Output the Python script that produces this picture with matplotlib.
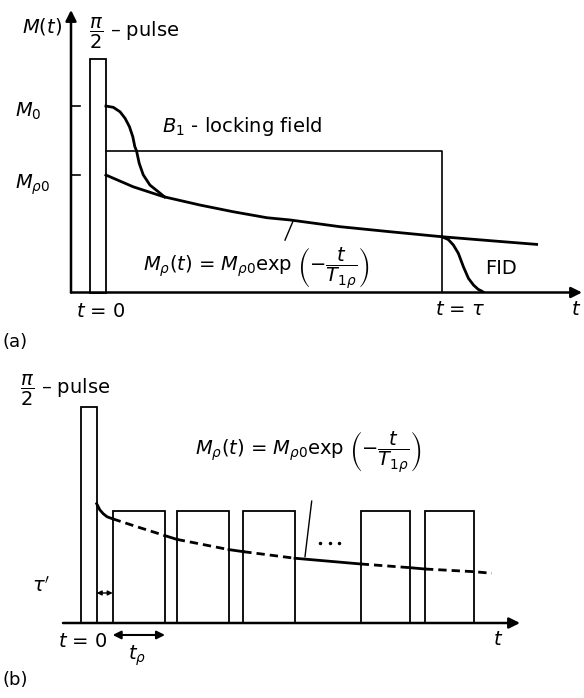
import matplotlib.pyplot as plt
from matplotlib.patches import Rectangle

plt.rcParams['font.family'] = 'DejaVu Sans'
plt.rcParams['mathtext.fontset'] = 'dejavusans'
FS = 14

# ---------------- panel (a) data (t in units of tau, M in units of M0) ----------
pulse_a = (-0.046, 0.0, 1.252)          # start, end, height of pi/2 pulse
M0 = 1.0
Mrho0 = 0.63
lock_level = 0.759
tau = 1.0

exp_t = [0.0, 0.081, 0.171, 0.280, 0.379, 0.479, 0.548, 0.696, 0.845, 1.0, 1.143, 1.282]
exp_M = [0.63, 0.567, 0.514, 0.469, 0.433, 0.401, 0.389, 0.353, 0.326, 0.299, 0.278, 0.258]

fid0_t = [0.0, 0.022, 0.042, 0.057, 0.070, 0.080, 0.086, 0.091, 0.099, 0.111, 0.131,
          0.156, 0.175]
fid0_M = [1.0, 0.993, 0.969, 0.934, 0.889, 0.835, 0.782, 0.760, 0.693, 0.631, 0.576,
          0.540, 0.512]

fid1_t = [1.0, 1.019, 1.034, 1.049, 1.064, 1.079, 1.094, 1.108, 1.118, 1.125]
fid1_M = [0.299, 0.284, 0.255, 0.210, 0.138, 0.076, 0.040, 0.017, 0.008, 0.0]

# ---------------- panel (b) data (t in units of t_rho) ----------------------
pulse_b = (-0.30, 0.0, 1.926)
lock_start = [0.306, 1.530, 2.803, 5.048, 6.277]
lock_end = [1.306, 2.530, 3.792, 5.990, 7.220]
lock_height = 1.0

curve_t = [0.0, 0.06, 0.127, 0.2, 0.306, 0.765, 1.306, 1.530, 2.530, 2.803, 3.792,
           5.048, 5.990, 6.277, 7.220, 7.553]
curve_M = [1.065, 1.01, 0.975, 0.948, 0.930, 0.860, 0.780, 0.747, 0.655, 0.637, 0.578,
           0.527, 0.494, 0.482, 0.458, 0.444]

fig = plt.figure(figsize=(5.84, 6.98), dpi=100)

# ============================ panel (a) ============================
axa = fig.add_axes([71 / 584, 1 - 292.5 / 698, 511 / 584, 282.5 / 698])
axa.set_xlim(-0.104, 1.417)
axa.set_ylim(0, 1.515)
axa.axis('off')

arrow = dict(arrowstyle='-|>', lw=1.8, color='k', mutation_scale=16, shrinkA=0, shrinkB=0)
axa.annotate('', xy=(1.417, 0), xytext=(-0.104, 0), arrowprops=arrow, annotation_clip=False)
axa.annotate('', xy=(-0.104, 1.515), xytext=(-0.104, 0), arrowprops=arrow, annotation_clip=False)

axa.add_patch(Rectangle((pulse_a[0], 0), pulse_a[1] - pulse_a[0], pulse_a[2],
                        fill=False, lw=1.3, ec='k', clip_on=False))
# locking field
axa.plot([0, tau, tau], [lock_level, lock_level, 0], color='k', lw=1.2)
# M0 and Mrho0 ticks
axa.plot([-0.104, -0.077], [M0, M0], color='k', lw=1.2)
axa.plot([-0.104, -0.077], [Mrho0, Mrho0], color='k', lw=1.2)

axa.plot(exp_t, exp_M, color='k', lw=2.0, solid_joinstyle='round')
axa.plot(fid0_t, fid0_M, color='k', lw=2.0, solid_joinstyle='round')
axa.plot(fid1_t, fid1_M, color='k', lw=2.0, solid_joinstyle='round')
axa.plot([0.557, 0.533], [0.383, 0.281], color='k', lw=1.0)

axa.text(-0.131, 1.424, '$M(t)$', fontsize=FS, ha='right', va='center')
axa.text(-0.05, 1.391, r'$\dfrac{\pi}{2}$' + ' – pulse', fontsize=FS, ha='left', va='center')
axa.text(-0.271, 0.941, '$M_0$', fontsize=FS, ha='left', va='baseline')
axa.text(-0.271, 0.555, r'$M_{\rho 0}$', fontsize=FS, ha='left', va='baseline')
axa.text(0.167, 0.859, '$B_1$ - locking field', fontsize=FS, ha='left', va='baseline')
axa.text(0.110, 0.119, r'$M_\rho(t)$ = $M_{\rho 0}$exp $\left(-\dfrac{t}{T_{1\rho}}\right)$',
         fontsize=FS, ha='left', va='baseline')
axa.text(1.128, 0.099, 'FID', fontsize=FS, ha='left', va='baseline')
axa.text(-0.015, -0.131, '$t$ = 0', fontsize=FS, ha='center', va='baseline')
axa.text(1.054, -0.121, r'$t$ = $\tau$', fontsize=FS, ha='center', va='baseline')
axa.text(1.399, -0.121, '$t$', fontsize=FS, ha='center', va='baseline')

fig.text(3 / 584, 1 - 347 / 698, '(a)', fontsize=FS - 1, ha='left', va='baseline')

# ============================ panel (b) ============================
axb = fig.add_axes([63 / 584, 1 - 623 / 698, 457 / 584, 223 / 698])
axb.set_xlim(-0.644, 8.094)
axb.set_ylim(0, 1.991)
axb.axis('off')

axb.annotate('', xy=(8.094, 0), xytext=(-0.644, 0), arrowprops=arrow, annotation_clip=False)

axb.add_patch(Rectangle((pulse_b[0], 0), pulse_b[1] - pulse_b[0], pulse_b[2],
                        fill=False, lw=1.3, ec='k', clip_on=False))
for s, e in zip(lock_start, lock_end):
    axb.add_patch(Rectangle((s, 0), e - s, lock_height, fill=False, lw=1.3, ec='k'))


def in_lock(t):
    return any(s <= t <= e for s, e in zip(lock_start, lock_end)) or t > lock_end[-1]


# group curve segments into solid (between pulses) and dashed (during pulses) runs
runs = []
for i in range(len(curve_t) - 1):
    mid = 0.5 * (curve_t[i] + curve_t[i + 1])
    dashed = in_lock(mid)
    if runs and runs[-1][0] == dashed:
        runs[-1][1].append(i + 1)
    else:
        runs.append([dashed, [i, i + 1]])
for dashed, idx in runs:
    xs = [curve_t[j] for j in idx]
    ys = [curve_M[j] for j in idx]
    if dashed:
        axb.plot(xs, ys, color='k', lw=2.0, dashes=(3.0, 1.8))
    else:
        axb.plot(xs, ys, color='k', lw=2.0, solid_joinstyle='round')

axb.plot([4.111, 3.983], [1.088, 0.592], color='k', lw=1.0)
axb.plot([4.27, 4.46, 4.63], [0.712] * 3, 'k.', ms=3)

small = dict(arrowstyle='<|-|>', lw=1.0, color='k', mutation_scale=7, shrinkA=0, shrinkB=0)
axb.annotate('', xy=(lock_start[0], 0.268), xytext=(0, 0.268), arrowprops=small)
big = dict(arrowstyle='<|-|>', lw=1.5, color='k', mutation_scale=12, shrinkA=0, shrinkB=0)
axb.annotate('', xy=(lock_end[0], -0.107), xytext=(lock_start[0], -0.107), arrowprops=big,
             annotation_clip=False)

axb.text(-1.467, 2.08, r'$\dfrac{\pi}{2}$' + ' – pulse', fontsize=FS, ha='left', va='center')
axb.text(1.880, 1.5, r'$M_\rho(t)$ = $M_{\rho 0}$exp $\left(-\dfrac{t}{T_{1\rho}}\right)$',
         fontsize=FS, ha='left', va='baseline')
axb.text(-0.893, 0.28, r"$\tau'$", fontsize=FS, ha='right', va='baseline')
axb.text(-0.262, -0.211, '$t$ = 0', fontsize=FS, ha='center', va='baseline')
axb.text(0.77, -0.33, r'$t_\rho$', fontsize=FS, ha='center', va='baseline')
axb.text(7.67, -0.196, '$t$', fontsize=FS, ha='center', va='baseline')

fig.text(3 / 584, 1 - 685 / 698, '(b)', fontsize=FS - 1, ha='left', va='baseline')

fig.savefig('out.png', dpi=100)
